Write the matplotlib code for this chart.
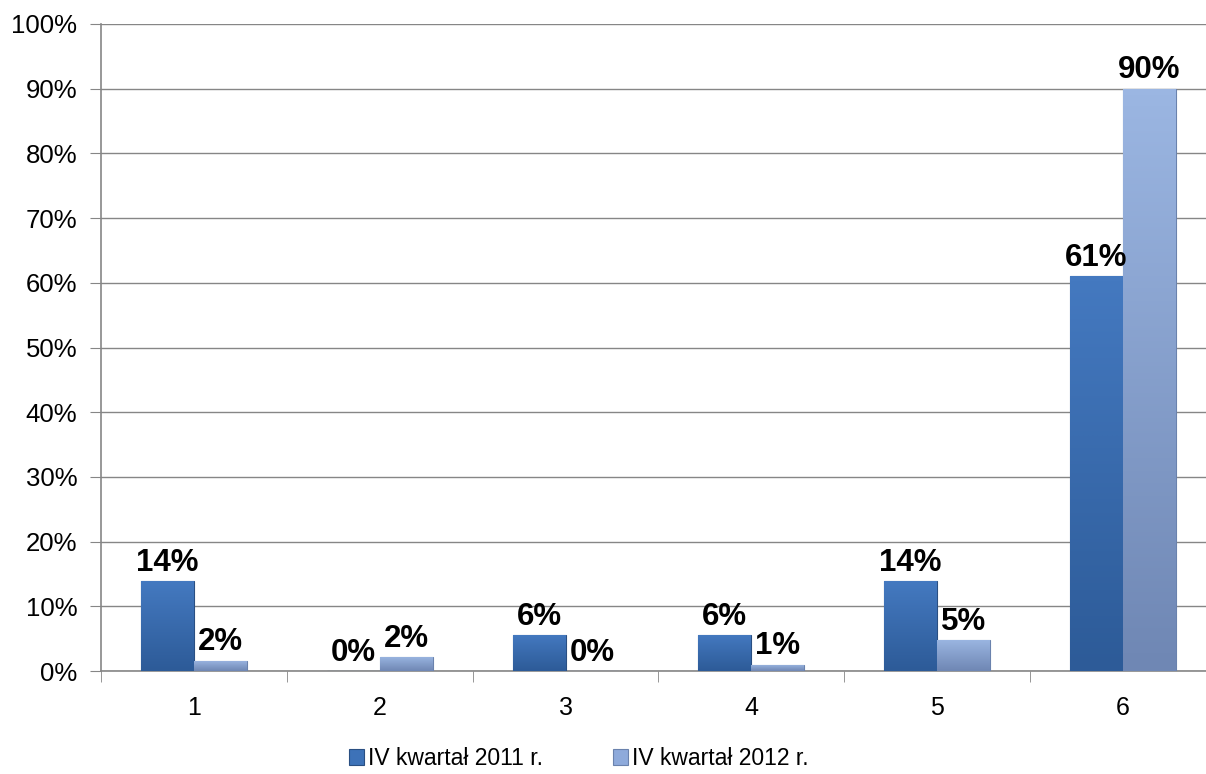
import matplotlib
matplotlib.use("Agg")
import matplotlib.pyplot as plt
from matplotlib.colors import LinearSegmentedColormap
import numpy as np

plt.rcParams["font.family"] = ["Liberation Sans", "DejaVu Sans"]

categories = ["1", "2", "3", "4", "5", "6"]
series_names = ["IV kwartał 2011 r.", "IV kwartał 2012 r."]
values_2011 = [13.9, 0.0, 5.6, 5.6, 13.9, 61.0]
values_2012 = [1.6, 2.2, 0.0, 1.0, 4.8, 90.0]
labels_2011 = ["14%", "0%", "6%", "6%", "14%", "61%"]
labels_2012 = ["2%", "2%", "0%", "1%", "5%", "90%"]

colors = ["#3d72b8", "#8eaadb"]
edge_colors = ["#2a4f82", "#6a82ad"]
# top -> bottom gradient for each series
gradients = [["#4479c0", "#2d5b98"], ["#9bb6e2", "#6f87b4"]]

fig = plt.figure(figsize=(12.06, 7.74), dpi=100)
ax = fig.add_axes([0.0837, 0.133, 0.9245, 0.836])

x = np.arange(len(categories))
w = 0.285
for i, (vals, labs) in enumerate([(values_2011, labels_2011), (values_2012, labels_2012)]):
    pos = x + (i - 0.5) * w
    b = ax.bar(pos, vals, width=w, color=colors[i], edgecolor=edge_colors[i],
               linewidth=0.8, label=series_names[i], zorder=3)
    cmap = LinearSegmentedColormap.from_list(f"g{i}", gradients[i][::-1])
    for rect in b:
        h = rect.get_height()
        if h <= 0:
            continue
        x0 = rect.get_x()
        im = ax.imshow(np.linspace(1, 0, 64).reshape(-1, 1), cmap=cmap,
                       extent=[x0, x0 + w, 0, h], aspect="auto", zorder=3.5,
                       interpolation="bilinear")
        im.set_clip_path(rect)
    for p, v, t in zip(pos, vals, labs):
        ax.text(p, v + 0.5, t, ha="center", va="bottom", fontsize=22.5,
                fontweight="bold", zorder=5)

ax.set_xlim(-0.5, len(categories) - 0.5)
ax.set_ylim(0, 100)
ax.set_yticks(np.arange(0, 101, 10))
ax.set_yticklabels([f"{v}%" for v in range(0, 101, 10)], fontsize=18.5)
ax.set_xticks(x)
ax.set_xticklabels(categories, fontsize=18)
ax.set_xticks(np.arange(-0.5, len(categories), 1), minor=True)
ax.tick_params(axis="x", which="major", length=0, pad=18)
ax.tick_params(axis="x", which="minor", length=8, color="#868686")
ax.tick_params(axis="y", length=8, color="#868686", pad=9)

ax.grid(axis="y", color="#868686", linewidth=1, zorder=0)
for s in ["top", "right"]:
    ax.spines[s].set_visible(False)
for s in ["left", "bottom"]:
    ax.spines[s].set_color("#868686")
    ax.spines[s].set_linewidth(1.2)

fig.legend(*ax.get_legend_handles_labels(), loc="center",
           bbox_to_anchor=(0.48, 0.02), bbox_transform=fig.transFigure,
           ncol=2, frameon=False, fontsize=16.5, handlelength=0.65,
           handleheight=0.65, handletextpad=0.18, columnspacing=3.05,
           borderpad=0)

fig.savefig("out.png", dpi=100)
